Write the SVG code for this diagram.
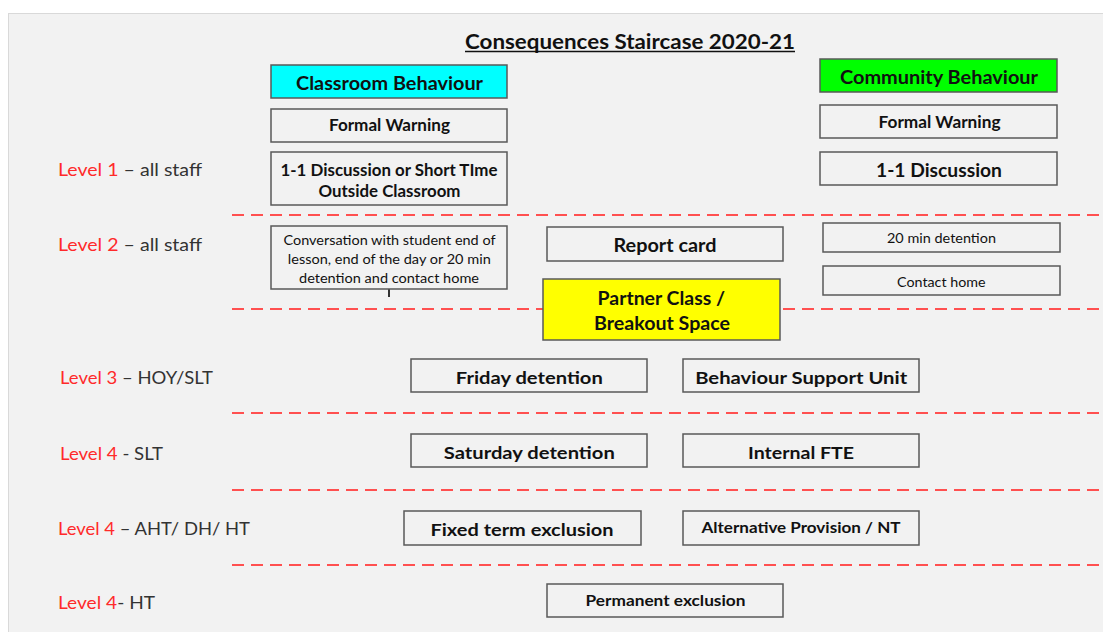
<svg xmlns="http://www.w3.org/2000/svg" width="1103" height="632" viewBox="0 0 1103 632">
<style>
.bx{fill:#f2f2f2;stroke:#595959;stroke-width:1.5}
.t{font-family:Lato,"Open Sans","Liberation Sans",sans-serif;font-weight:bold;fill:#111;text-anchor:middle}
.n{font-weight:normal}
.lv{font-family:Lato,"Open Sans","Liberation Sans",sans-serif;font-size:17.5px;fill:#333}
.red{fill:#ff2a2a}
.dash{stroke:#ff5050;stroke-width:2;stroke-dasharray:12 7;fill:none}
</style>
<rect x="0" y="0" width="1103" height="632" fill="#ffffff"/>
<rect x="8.5" y="13.5" width="1100" height="630" fill="#f2f2f2" stroke="#d9d9d9" stroke-width="1"/>
<g id="title">
<text x="630" y="48.5" class="t" style="font-size:21px" textLength="330" lengthAdjust="spacingAndGlyphs">Consequences Staircase 2020-21</text>
<line x1="465" y1="51.5" x2="795" y2="51.5" stroke="#111" stroke-width="1.5"/>
</g>
<g id="connectors">
<path class="dash" d="M232 215H1103M232 309H1103M232 413H1103M232 490H1103M232 565H1103"/>
<line x1="389" y1="289" x2="389" y2="297" stroke="#333" stroke-width="2"/>
</g>
<g id="labels">
<text x="58" y="176" class="lv" textLength="144" lengthAdjust="spacingAndGlyphs"><tspan class="red">Level 1</tspan> – all staff</text>
<text x="58" y="251" class="lv" textLength="144" lengthAdjust="spacingAndGlyphs"><tspan class="red">Level 2</tspan> – all staff</text>
<text x="60" y="383.5" class="lv" style="font-size:17px" textLength="153" lengthAdjust="spacingAndGlyphs"><tspan class="red">Level 3</tspan> – HOY/SLT</text>
<text x="60" y="459.5" class="lv" style="font-size:17px" textLength="103" lengthAdjust="spacingAndGlyphs"><tspan class="red">Level 4</tspan> - SLT</text>
<text x="58" y="535" class="lv" style="font-size:17px" textLength="192" lengthAdjust="spacingAndGlyphs"><tspan class="red">Level 4</tspan> – AHT/ DH/ HT</text>
<text x="58" y="609" class="lv" style="font-size:17px" textLength="97" lengthAdjust="spacingAndGlyphs"><tspan class="red">Level 4</tspan>- HT</text>
</g>
<g id="classroom-behaviour"><rect class="bx" x="271" y="65" width="236" height="33" style="fill:#00ffff"/><text x="389.5" y="89.5" class="t" style="font-size:19px" textLength="187" lengthAdjust="spacingAndGlyphs">Classroom Behaviour</text></g>
<g id="formal-warning-1"><rect class="bx" x="271" y="109" width="236" height="33"/><text x="389.5" y="131" class="t" style="font-size:17px" textLength="121" lengthAdjust="spacingAndGlyphs">Formal Warning</text></g>
<g id="discussion-short-time"><rect class="bx" x="271" y="152" width="236" height="53"/><text x="389" y="175.5" class="t" style="font-size:17px" textLength="217" lengthAdjust="spacingAndGlyphs">1-1 Discussion or Short TIme</text><text x="389.5" y="196.5" class="t" style="font-size:17px" textLength="142" lengthAdjust="spacingAndGlyphs">Outside Classroom</text></g>
<g id="community-behaviour"><rect class="bx" x="820" y="59" width="237" height="33" style="fill:#00ff00"/><text x="939" y="83.5" class="t" style="font-size:19px" textLength="198" lengthAdjust="spacingAndGlyphs">Community Behaviour</text></g>
<g id="formal-warning-2"><rect class="bx" x="820" y="105" width="237" height="33"/><text x="939.5" y="127.5" class="t" style="font-size:17px" textLength="122" lengthAdjust="spacingAndGlyphs">Formal Warning</text></g>
<g id="discussion"><rect class="bx" x="820" y="152" width="237" height="33"/><text x="939" y="177" class="t" style="font-size:19px" textLength="126" lengthAdjust="spacingAndGlyphs">1-1 Discussion</text></g>
<g id="conversation"><rect class="bx" x="271" y="226" width="236" height="63"/><text x="389.5" y="244.5" class="t n" style="font-size:14px" textLength="212" lengthAdjust="spacingAndGlyphs">Conversation with student end of</text><text x="389.3" y="263.5" class="t n" style="font-size:14px" textLength="203" lengthAdjust="spacingAndGlyphs">lesson, end of the day or 20 min</text><text x="389" y="282.5" class="t n" style="font-size:14px" textLength="180" lengthAdjust="spacingAndGlyphs">detention and contact home</text></g>
<g id="report-card"><rect class="bx" x="547" y="227" width="236" height="34"/><text x="665" y="251.5" class="t" style="font-size:19px" textLength="103" lengthAdjust="spacingAndGlyphs">Report card</text></g>
<g id="twenty-min-detention"><rect class="bx" x="823" y="223" width="237" height="29"/><text x="941.5" y="242.5" class="t n" style="font-size:14px" textLength="109" lengthAdjust="spacingAndGlyphs">20 min detention</text></g>
<g id="contact-home"><rect class="bx" x="823" y="266" width="237" height="29"/><text x="941.3" y="286.5" class="t n" style="font-size:14px" textLength="88.5" lengthAdjust="spacingAndGlyphs">Contact home</text></g>
<g id="partner-class"><rect class="bx" x="543" y="279" width="237" height="61" style="fill:#ffff00"/><text x="661.3" y="304.5" class="t" style="font-size:19px" textLength="127.5" lengthAdjust="spacingAndGlyphs">Partner Class /</text><text x="662" y="330" class="t" style="font-size:19px" textLength="136" lengthAdjust="spacingAndGlyphs">Breakout Space</text></g>
<g id="friday-detention"><rect class="bx" x="411" y="359" width="236" height="33"/><text x="529.3" y="384" class="t" style="font-size:17.5px" textLength="147" lengthAdjust="spacingAndGlyphs">Friday detention</text></g>
<g id="behaviour-support-unit"><rect class="bx" x="683" y="359" width="236" height="33"/><text x="801.2" y="384" class="t" style="font-size:17.5px" textLength="212" lengthAdjust="spacingAndGlyphs">Behaviour Support Unit</text></g>
<g id="saturday-detention"><rect class="bx" x="411" y="434" width="236" height="33"/><text x="529.3" y="459" class="t" style="font-size:17.5px" textLength="171" lengthAdjust="spacingAndGlyphs">Saturday detention</text></g>
<g id="internal-fte"><rect class="bx" x="683" y="434" width="236" height="33"/><text x="801" y="459" class="t" style="font-size:17.5px" textLength="106" lengthAdjust="spacingAndGlyphs">Internal FTE</text></g>
<g id="fixed-term-exclusion"><rect class="bx" x="404" y="511" width="237" height="34"/><text x="522" y="536" class="t" style="font-size:17.5px" textLength="183" lengthAdjust="spacingAndGlyphs">Fixed term exclusion</text></g>
<g id="alternative-provision"><rect class="bx" x="683" y="511" width="236" height="34"/><text x="801" y="532.5" class="t" style="font-size:15.5px" textLength="199" lengthAdjust="spacingAndGlyphs">Alternative Provision / NT</text></g>
<g id="permanent-exclusion"><rect class="bx" x="547" y="584" width="236" height="33"/><text x="665.5" y="606" class="t" style="font-size:15.5px" textLength="160" lengthAdjust="spacingAndGlyphs">Permanent exclusion</text></g>
</svg>
